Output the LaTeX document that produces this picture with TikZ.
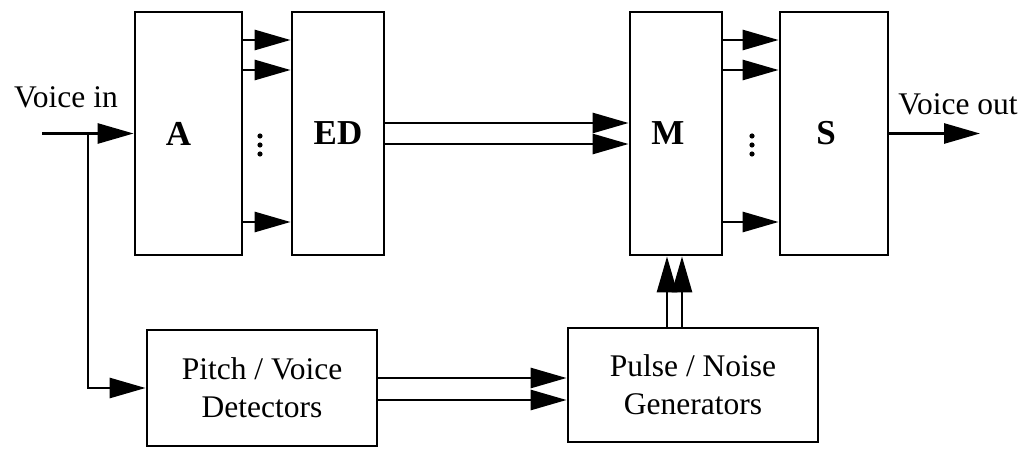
\documentclass[tikz,border=0pt]{standalone}
\usepackage{fontspec}
\setmainfont{Liberation Serif}
\usetikzlibrary{arrows.meta}

\begin{document}
\begin{tikzpicture}[
    x=0.5pt, y=-0.5pt,
    line width=1.4pt,
    font=\fontsize{15.75}{19}\selectfont,
    box/.style={draw, minimum height=121.5pt, font=\fontsize{17.5}{21}\selectfont\bfseries},
    gen/.style={draw, minimum width=115pt, minimum height=58pt, align=center},
    arr/.style={-{Triangle[length=18pt, width=10pt]}}
]
    \useasboundingbox (0,0) rectangle (1029,449);

    \node[box, minimum width=53.5pt] (A) at (188.5,133.5) {A\hspace*{10pt}};
    \node[box, minimum width=46pt] (ED) at (338,133.5) {ED};
    \node[box, minimum width=46pt] (M) at (676,133.5) {M\hspace*{8pt}};
    \node[box, minimum width=54pt] (S) at (834,133.5) {S\hspace*{8pt}};
    \node[gen] (pitch) at (262,388) {Pitch / Voice\\Detectors};
    \node[gen, minimum width=125pt, minimum height=57pt] (pulse) at (693,385) {Pulse / Noise\\Generators};

    \coordinate (in) at (42,133.5);
    \coordinate (split) at (88,133.5);
    \coordinate (out) at (980,133.5);
    \node[anchor=base] (vin) at (66,108) {Voice in};
    \node[anchor=base] (vout) at (958,115) {Voice out};

    \draw[arr] (in) -- (A);
    \draw[arr] (split) |- (pitch);
    \draw[arr] (S) -- (out);

    \foreach \dy in {46.75, 31.75, -44.25} {
        \draw[arr] ([yshift=\dy pt]A.east) -- ([yshift=\dy pt]ED.west);
        \draw[arr] ([yshift=\dy pt]M.east) -- ([yshift=\dy pt]S.west);
    }
    % vertical dots between the channel arrows
    \foreach \x in {260, 752}
        \foreach \y in {136, 145, 154}
            \fill (\x,\y) circle (1.3pt);

    \foreach \dy in {5.25, -5.25}
        \draw[arr] ([yshift=\dy pt]ED.east) -- ([yshift=\dy pt]M.west);
    \foreach \dy in {5, -6}
        \draw[arr] ([yshift=\dy pt]pitch.east) -- ([yshift=\dy pt]pitch.east -| pulse.west);

    \coordinate (m1) at ([xshift=-4.5pt]M.south);
    \coordinate (m2) at ([xshift=3pt]M.south);
    \draw[arr] (m1 |- pulse.north) -- (m1);
    \draw[arr] (m2 |- pulse.north) -- (m2);
\end{tikzpicture}
\end{document}
